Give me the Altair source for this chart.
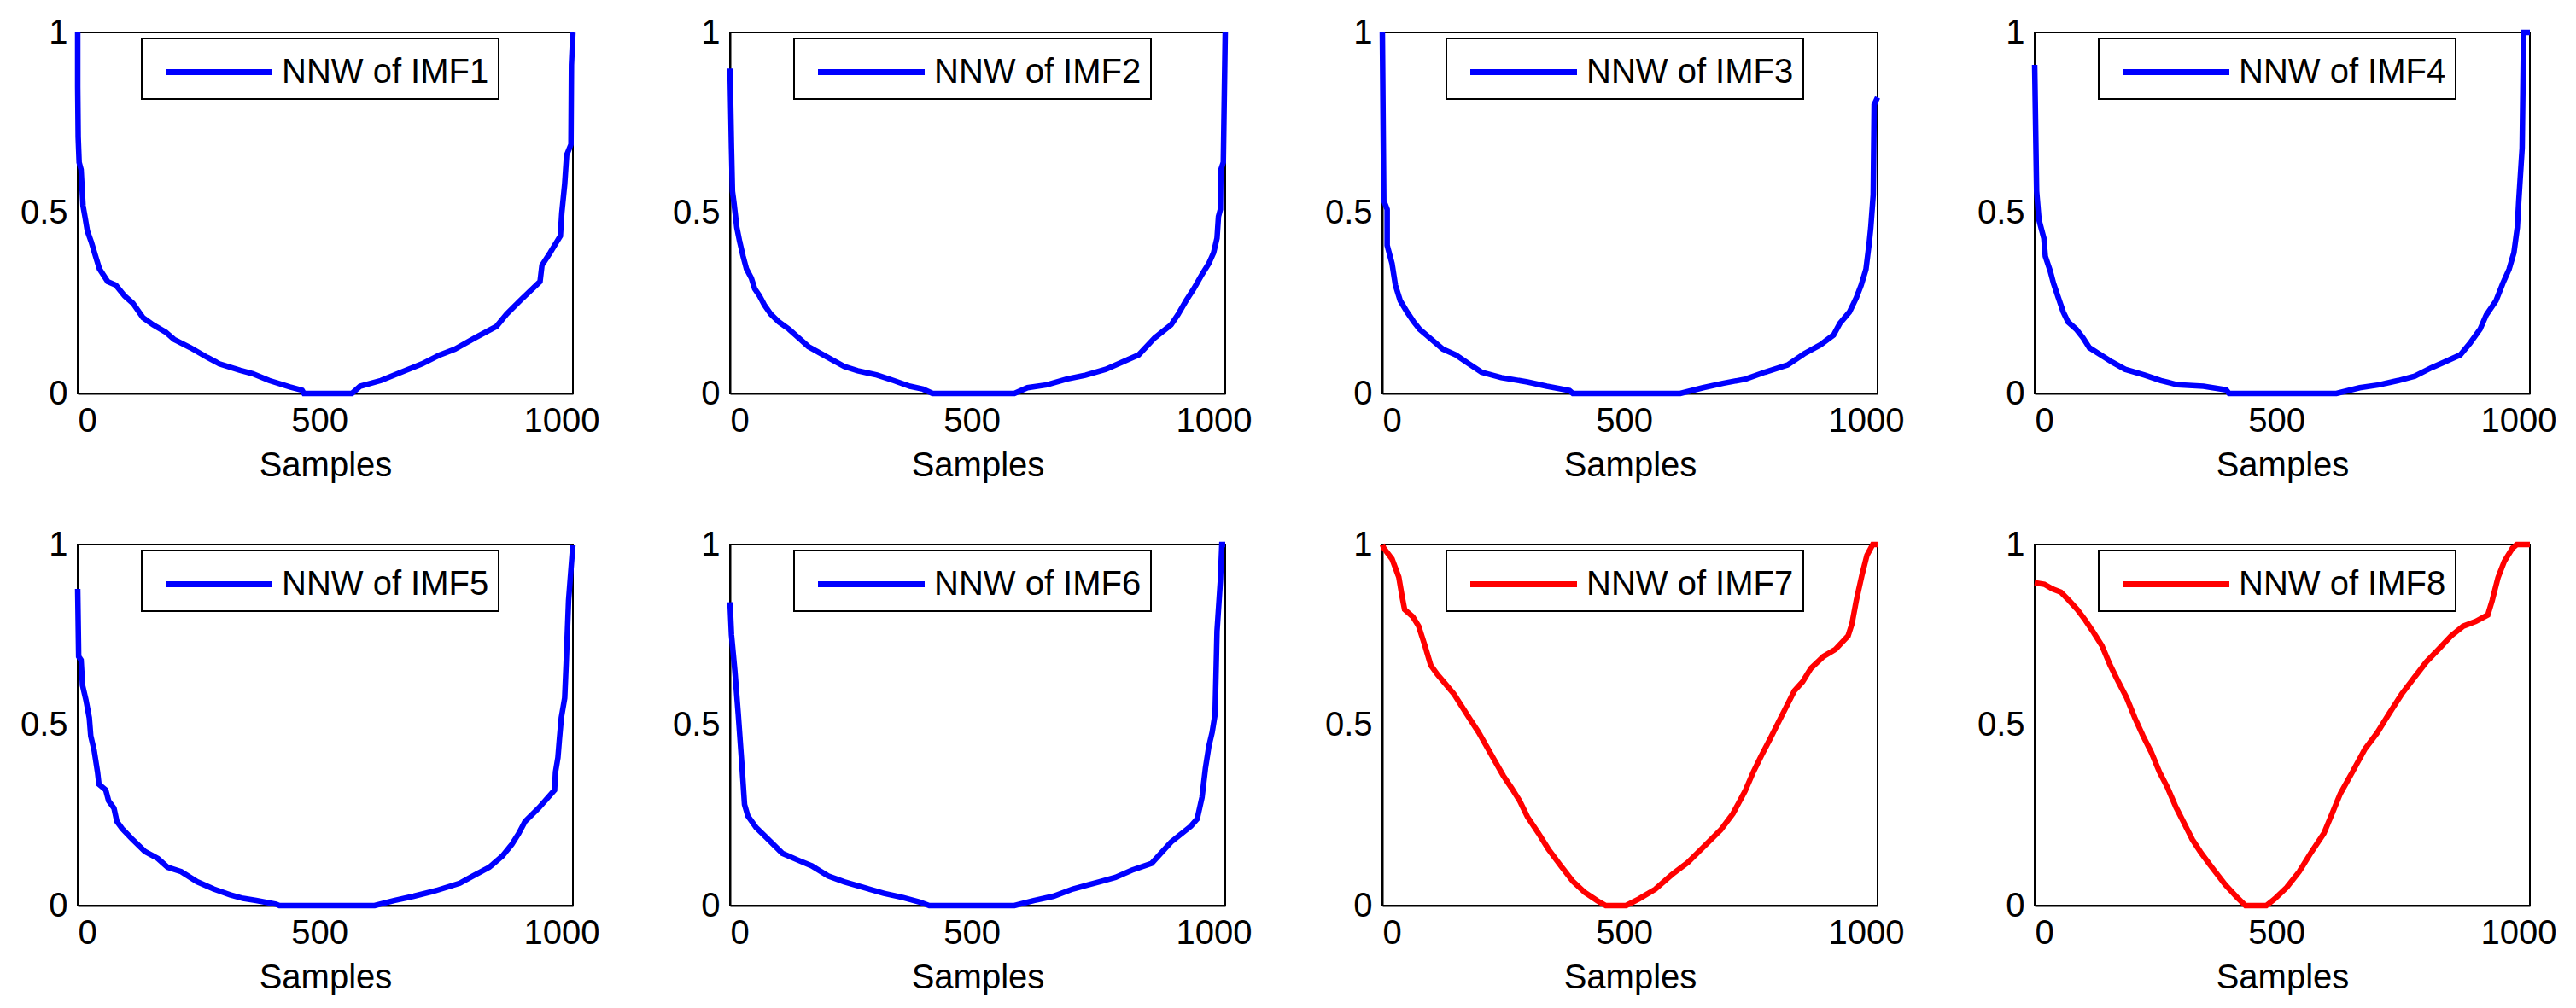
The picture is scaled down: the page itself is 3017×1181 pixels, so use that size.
import altair as alt
import pandas as pd

BLUE = "#0000ff"
RED = "#ff0000"
FONT = "Liberation Sans"

# NNW curves (sample index, normalised weight)
imf1_x = [0, 0, 1, 3, 7, 11, 15, 20, 28, 37, 45, 62, 79, 97, 114, 135, 156, 182, 199, 233,
          268, 293, 336, 362, 396, 439, 464, 468, 567, 584, 627, 678, 712, 746, 780, 823, 866,
          887, 917, 956, 960, 977, 986, 998, 1001, 1007, 1011, 1020, 1021, 1024]
imf1_y = [1.0, 0.85, 0.71, 0.64, 0.62, 0.52, 0.49, 0.45, 0.42, 0.38, 0.345, 0.31, 0.30, 0.27,
          0.25, 0.21, 0.19, 0.17, 0.15, 0.127, 0.10, 0.082, 0.064, 0.055, 0.036, 0.018, 0.009,
          0.0, 0.0, 0.02, 0.036, 0.064, 0.082, 0.105, 0.123, 0.155, 0.186, 0.22, 0.26, 0.31,
          0.355, 0.39, 0.41, 0.436, 0.50, 0.58, 0.66, 0.69, 0.91, 1.0]

imf2_x = [0, 3, 5, 8, 14, 20, 27, 34, 44, 51, 61, 71, 84, 101, 122, 142, 162, 182, 209, 236,
          264, 304, 338, 372, 399, 419, 588, 615, 655, 696, 736, 777, 811, 845, 878, 912, 926,
          943, 959, 976, 990, 1000, 1007, 1010, 1014, 1015, 1020, 1024]
imf2_y = [0.90, 0.68, 0.56, 0.53, 0.46, 0.42, 0.38, 0.345, 0.32, 0.29, 0.27, 0.245, 0.22,
          0.198, 0.178, 0.154, 0.13, 0.115, 0.095, 0.075, 0.063, 0.051, 0.036, 0.02, 0.012,
          0.0, 0.0, 0.016, 0.024, 0.04, 0.051, 0.067, 0.087, 0.107, 0.154, 0.19, 0.218, 0.257,
          0.29, 0.33, 0.36, 0.39, 0.43, 0.49, 0.51, 0.62, 0.64, 1.0]

imf3_x = [0, 3, 10, 10, 20, 27, 37, 51, 64, 77, 98, 125, 152, 178, 205, 246, 300, 340, 387,
          394, 616, 663, 704, 751, 791, 838, 872, 906, 933, 946, 966, 980, 990, 1000, 1007,
          1010, 1015, 1017, 1024]
imf3_y = [1.0, 0.534, 0.51, 0.41, 0.36, 0.30, 0.257, 0.226, 0.20, 0.178, 0.154, 0.123, 0.107,
          0.083, 0.059, 0.044, 0.032, 0.02, 0.008, 0.0, 0.0, 0.016, 0.028, 0.04, 0.059, 0.079,
          0.11, 0.135, 0.162, 0.194, 0.226, 0.265, 0.30, 0.344, 0.42, 0.46, 0.55, 0.80, 0.82]

imf4_x = [0, 4, 9, 19, 22, 32, 39, 49, 59, 69, 86, 100, 113, 133, 160, 187, 227, 261, 295, 349,
          396, 402, 624, 672, 712, 752, 786, 820, 847, 880, 900, 921, 934, 954, 968, 981, 991,
          998, 1001, 1008, 1011, 1024]
imf4_y = [0.91, 0.56, 0.48, 0.43, 0.38, 0.34, 0.305, 0.265, 0.226, 0.198, 0.178, 0.154, 0.127,
          0.11, 0.087, 0.067, 0.051, 0.036, 0.024, 0.02, 0.01, 0.0, 0.0, 0.016, 0.024, 0.036,
          0.048, 0.071, 0.087, 0.107, 0.139, 0.178, 0.218, 0.257, 0.305, 0.344, 0.39, 0.46,
          0.534, 0.68, 1.0, 1.0]

imf5_x = [0, 2, 7, 10, 17, 24, 27, 34, 41, 44, 58, 64, 75, 81, 92, 112, 139, 166, 186, 214,
          247, 281, 315, 342, 369, 410, 417, 614, 654, 695, 742, 790, 817, 851, 878, 898, 912,
          925, 953, 986, 988, 993, 996, 1000, 1007, 1010, 1015, 1024]
imf5_y = [0.877, 0.69, 0.68, 0.61, 0.57, 0.52, 0.47, 0.43, 0.37, 0.336, 0.32, 0.29, 0.27,
          0.233, 0.213, 0.185, 0.15, 0.13, 0.106, 0.094, 0.066, 0.046, 0.03, 0.02, 0.014,
          0.004, 0.0, 0.0, 0.014, 0.026, 0.042, 0.062, 0.082, 0.106, 0.137, 0.17, 0.2, 0.233,
          0.27, 0.32, 0.37, 0.41, 0.46, 0.52, 0.575, 0.67, 0.845, 1.0]

imf6_x = [0, 3, 10, 17, 24, 30, 37, 54, 74, 108, 142, 169, 203, 236, 277, 318, 358, 392, 412,
          588, 628, 669, 709, 764, 797, 831, 872, 912, 953, 966, 976, 983, 990, 997, 1003,
          1007, 1014, 1017, 1024]
imf6_y = [0.84, 0.75, 0.65, 0.53, 0.40, 0.28, 0.248, 0.216, 0.19, 0.145, 0.125, 0.11, 0.082,
          0.066, 0.05, 0.034, 0.022, 0.01, 0.0, 0.0, 0.014, 0.026, 0.046, 0.066, 0.078, 0.098,
          0.117, 0.176, 0.22, 0.24, 0.30, 0.38, 0.44, 0.48, 0.53, 0.76, 0.90, 1.0, 1.0]

imf7_x = [0, 3, 20, 34, 41, 46, 63, 75, 88, 100, 114, 131, 148, 165, 182, 199, 216, 233, 250,
          267, 284, 300, 323, 343, 368, 394, 419, 445, 462, 504, 530, 564, 598, 632, 666, 700,
          725, 750, 767, 784, 801, 818, 835, 852, 869, 886, 912, 937, 963, 971, 980, 992, 1002,
          1014, 1024]
imf7_y = [1.0, 0.99, 0.96, 0.91, 0.855, 0.82, 0.80, 0.774, 0.72, 0.666, 0.64, 0.613, 0.586,
          0.55, 0.515, 0.48, 0.44, 0.40, 0.36, 0.326, 0.29, 0.246, 0.20, 0.157, 0.112, 0.067,
          0.036, 0.013, 0.0, 0.0, 0.018, 0.045, 0.085, 0.12, 0.165, 0.21, 0.255, 0.317, 0.37,
          0.416, 0.46, 0.505, 0.55, 0.595, 0.62, 0.657, 0.69, 0.71, 0.747, 0.78, 0.845, 0.917,
          0.97, 1.0, 1.0]

imf8_x = [0, 20, 37, 54, 71, 88, 105, 122, 139, 156, 173, 190, 207, 224, 241, 258, 275, 292,
          309, 326, 343, 368, 394, 419, 436, 479, 496, 521, 547, 572, 598, 615, 632, 657, 683,
          708, 733, 759, 784, 810, 835, 861, 886, 912, 937, 946, 958, 971, 988, 997, 1024]
imf8_y = [0.894, 0.89, 0.877, 0.868, 0.845, 0.82, 0.79, 0.756, 0.72, 0.666, 0.62, 0.576, 0.52,
          0.47, 0.425, 0.37, 0.326, 0.273, 0.228, 0.183, 0.148, 0.103, 0.058, 0.022, 0.0, 0.0,
          0.018, 0.05, 0.094, 0.148, 0.20, 0.255, 0.31, 0.37, 0.434, 0.478, 0.532, 0.586, 0.63,
          0.675, 0.71, 0.747, 0.774, 0.787, 0.805, 0.845, 0.908, 0.953, 0.99, 1.0, 1.0]

series_names = [f"NNW of IMF{i}" for i in range(1, 9)]
series_colors = [BLUE] * 6 + [RED] * 2
series_x = [imf1_x, imf2_x, imf3_x, imf4_x, imf5_x, imf6_x, imf7_x, imf8_x]
series_y = [imf1_y, imf2_y, imf3_y, imf4_y, imf5_y, imf6_y, imf7_y, imf8_y]

# legend swatch: a long horizontal stroke (custom path so the entry stays short)
SWATCH = "M-2.5,0H2.5"


def nnw_panel(name, xs, ys, color):
    """One MATLAB-style subplot: boxed axes, inset legend top-centre."""
    d = pd.DataFrame({"i": range(len(xs)), "sample": xs, "nnw": ys, "series": name})
    return (
        alt.Chart(d)
        .mark_line(strokeWidth=6.5)
        .encode(
            x=alt.X("sample:Q", title="Samples",
                    scale=alt.Scale(domain=[0, 1024], nice=False),
                    axis=alt.Axis(values=[0, 500, 1000], format="d")),
            y=alt.Y("nnw:Q", title=None, scale=alt.Scale(domain=[0, 1], nice=False),
                    axis=alt.Axis(values=[0, 0.5, 1], format="~g")),
            color=alt.Color("series:N", scale=alt.Scale(domain=[name], range=[color]),
                            legend=alt.Legend(orient="none", legendX=75, legendY=7, title=None,
                                              symbolType=SWATCH, symbolSize=2500,
                                              symbolStrokeWidth=7, symbolOffset=51,
                                              labelFontSize=40, labelFont=FONT,
                                              labelColor="black", labelLimit=0,
                                              labelOffset=45, strokeColor="black",
                                              padding=11)),
            order="i:Q",
        )
        .properties(width=580, height=423)
    )


panels = [nnw_panel(n, x, y, c) for n, x, y, c in zip(series_names, series_x, series_y, series_colors)]
row1 = alt.hconcat(*panels[:4], spacing=184, bounds="flush").resolve_scale(color="independent")
row2 = alt.hconcat(*panels[4:], spacing=184, bounds="flush").resolve_scale(color="independent")

chart = (
    alt.vconcat(row1, row2, spacing=600, bounds="flush")
    .resolve_scale(color="independent")
    .properties(padding={"left": 14, "top": 9, "right": 5, "bottom": 5}, background="white")
    .configure_axis(labelFont=FONT, labelFontSize=40, labelColor="black",
                    titleFont=FONT, titleFontSize=40, titleFontWeight="normal",
                    titleColor="black", domainColor="black", domainWidth=2,
                    ticks=False, grid=False, labelPadding=12, titlePadding=12)
    .configure_view(stroke="black", strokeWidth=2)
    .configure_legend(strokeWidth=2)
)

chart.save("out.html", embed_options={"renderer": "svg", "actions": False})
